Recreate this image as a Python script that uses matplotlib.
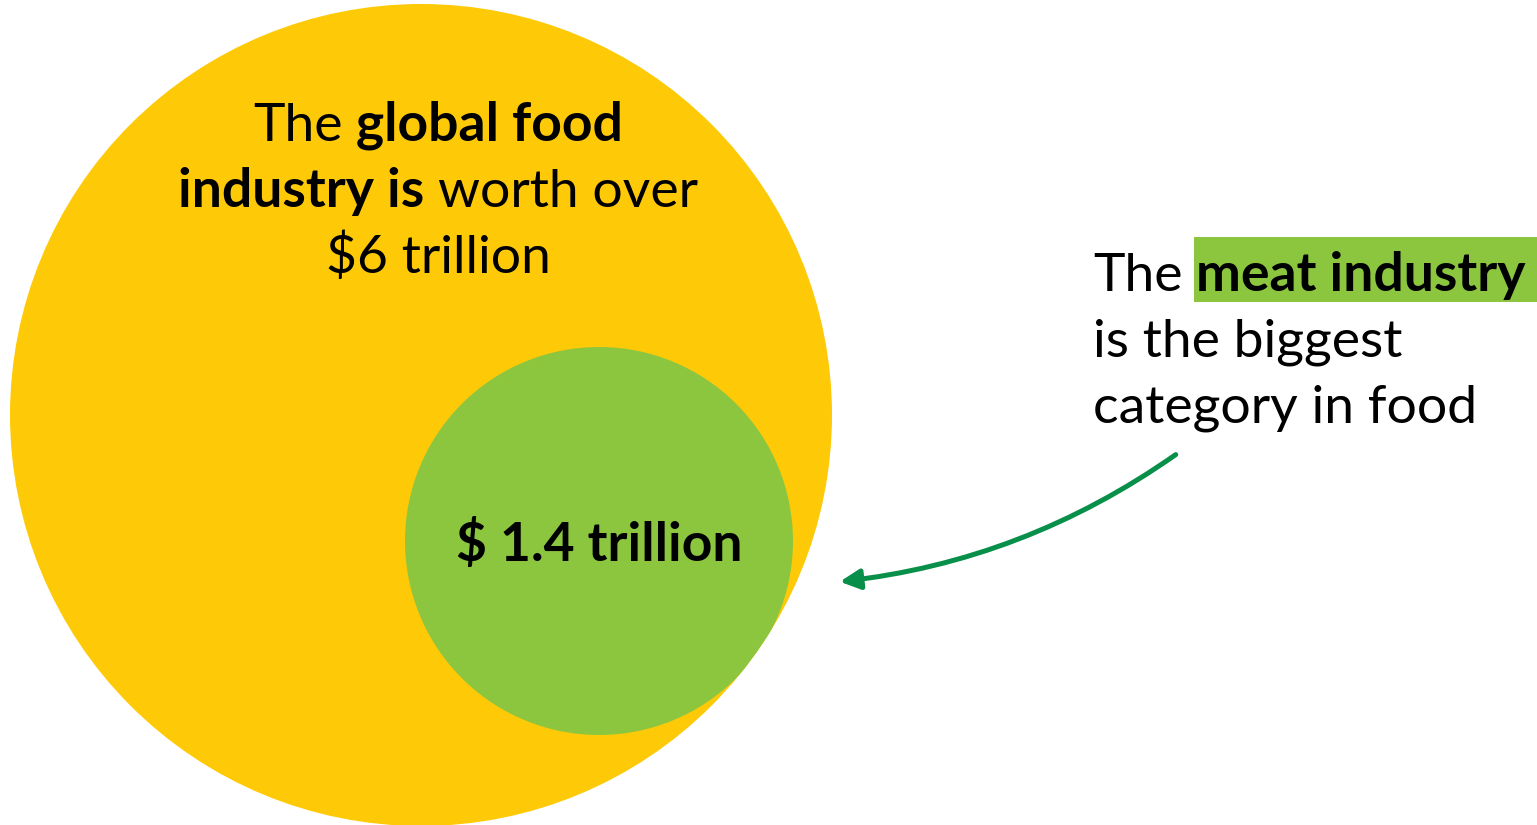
import numpy as np
import matplotlib
matplotlib.use("Agg")
import matplotlib.pyplot as plt
from matplotlib.patches import Circle, Rectangle, FancyArrowPatch

plt.rcParams['font.family'] = ['Lato', 'DejaVu Sans']

# values (trillion $)
total_value = 6.0
meat_value = 1.4

# text pieces: (text, bold?)
food_lines = [
    [("The", False), ("global food", True)],
    [("industry is", True), ("worth over", False)],
    [("$6 trillion", False)],
]
meat_lines = [
    [("The", False), ("meat industry", True)],
    [("is the biggest", False)],
    [("category in food", False)],
]
meat_label = "$ 1.4 trillion"

yellow = '#FEC907'
green = '#8CC63F'
arrow_green = '#088F49'

W, H = 1537, 825
fig = plt.figure(figsize=(W / 100, H / 100), dpi=100)
ax = fig.add_axes([0, 0, 1, 1])
ax.set_xlim(0, W)
ax.set_ylim(H, 0)
ax.axis('off')

# circles (sizes as in the original graphic)
r_total = 411
r_meat = 194
big = Circle((421, 415), r_total, color=yellow, lw=0, zorder=1)
ax.add_patch(big)
small = Circle((599, 541), r_meat, color=green, lw=0, zorder=2)
ax.add_patch(small)
small.set_clip_path(big)

fs = 38.5
line_gap = 66
renderer = fig.canvas.get_renderer()


def width_of(s, bold):
    t = ax.text(0, 0, s, fontsize=fs, fontweight='bold' if bold else 'normal')
    w = t.get_window_extent(renderer).width
    t.remove()
    return w


space = width_of("a a", False) - width_of("aa", False)


def draw_line(parts, x, y, align='center'):
    widths = [width_of(s, b) for s, b in parts]
    total = sum(widths) + space * (len(parts) - 1)
    x0 = x - total / 2 if align == 'center' else x
    spans = []
    for (s, b), w in zip(parts, widths):
        ax.text(x0, y, s, fontsize=fs, fontweight='bold' if b else 'normal',
                ha='left', va='baseline', zorder=5)
        spans.append((x0, x0 + w))
        x0 += w + space
    return spans


for i, parts in enumerate(food_lines):
    draw_line(parts, 438, 141 + i * line_gap)

spans = None
for i, parts in enumerate(meat_lines):
    s = draw_line(parts, 1093, 291 + i * line_gap, align='left')
    if i == 0:
        spans = s

# highlight behind "meat industry"
hx0, hx1 = spans[1]
ax.add_patch(Rectangle((hx0 - 2, 237), (hx1 - hx0) + 17, 65, color=green, lw=0, zorder=3))

ax.text(599, 561, meat_label, fontsize=fs, fontweight='bold', ha='center',
        va='baseline', zorder=5)

arr = FancyArrowPatch((1178, 453), (837, 582), connectionstyle='arc3,rad=-0.13',
                      arrowstyle='-|>,head_length=12,head_width=6',
                      color=arrow_green, lw=3.6, zorder=4)
ax.add_patch(arr)

fig.savefig('out.png', dpi=100)
